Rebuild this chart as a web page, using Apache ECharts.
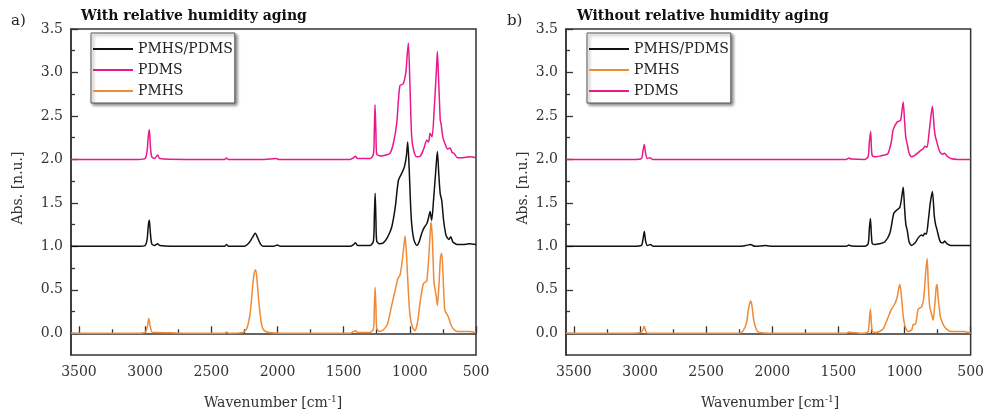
<!DOCTYPE html>
<html><head><meta charset="utf-8">
<script src="https://cdn.jsdelivr.net/npm/echarts@6/dist/echarts.min.js"></script>
<style>html,body{margin:0;padding:0;background:#fff}#c{width:987px;height:416px}</style>
</head><body><div id="c"></div>
<script>
// ---- data: [wavenumber cm-1, absorbance n.u.] ----
const xTicks = [500, 1000, 1500, 2000, 2500, 3000, 3500];
const xMinorTicks = [750, 1250, 1750, 2250, 2750, 3250];
const yTicks = [0, 0.5, 1.0, 1.5, 2.0, 2.5, 3.0, 3.5];
const yMinorTicks = [0.25, 0.75, 1.25, 1.75, 2.25, 2.75, 3.25];
const panelTitles = ['With relative humidity aging', 'Without relative humidity aging'];
const panelLetters = ['a)', 'b)'];
const legendA = ['PMHS/PDMS', 'PDMS', 'PMHS'];
const legendB = ['PMHS/PDMS', 'PMHS', 'PDMS'];

const aBlend = [[3560,1.0],[3300,1.0],[3050,1.0],[3000,1.01],[2985,1.08],[2975,1.25],[2968,1.3],[2960,1.15],[2950,1.03],[2930,1.01],[2905,1.03],[2890,1.01],[2700,1.0],[2400,1.0],[2385,1.02],[2370,1.0],[2250,1.0],[2215,1.04],[2190,1.1],[2168,1.15],[2150,1.1],[2130,1.03],[2110,1.0],[2030,1.0],[2000,1.015],[1980,1.0],[1600,1.0],[1450,1.0],[1425,1.02],[1410,1.04],[1395,1.01],[1300,1.01],[1275,1.06],[1268,1.35],[1262,1.61],[1256,1.3],[1250,1.06],[1230,1.03],[1200,1.04],[1170,1.1],[1137,1.22],[1110,1.45],[1086,1.76],[1061,1.84],[1040,1.92],[1025,2.05],[1016,2.2],[1005,1.9],[995,1.5],[986,1.26],[970,1.08],[948,1.01],[930,1.05],[910,1.15],[890,1.22],[872,1.26],[860,1.32],[847,1.4],[835,1.3],[820,1.55],[805,1.85],[792,2.09],[780,1.8],[770,1.6],[759,1.53],[745,1.3],[730,1.15],[721,1.11],[705,1.08],[691,1.11],[675,1.05],[655,1.03],[640,1.02],[600,1.02],[550,1.03],[500,1.02]];
const aPDMS = [[3560,2.0],[3300,2.0],[3050,2.0],[3000,2.01],[2985,2.1],[2975,2.28],[2968,2.34],[2960,2.15],[2950,2.03],[2930,2.01],[2905,2.05],[2890,2.01],[2700,2.0],[2400,2.0],[2385,2.015],[2370,2.0],[2100,2.0],[2010,2.01],[1990,2.0],[1600,2.0],[1450,2.0],[1425,2.02],[1410,2.035],[1395,2.01],[1300,2.01],[1275,2.06],[1268,2.35],[1263,2.63],[1256,2.3],[1250,2.06],[1220,2.04],[1180,2.05],[1150,2.07],[1125,2.18],[1100,2.4],[1085,2.7],[1074,2.85],[1050,2.87],[1030,3.0],[1020,3.2],[1011,3.34],[1000,2.9],[986,2.26],[970,2.1],[948,2.03],[920,2.04],[895,2.12],[872,2.22],[858,2.2],[847,2.3],[832,2.26],[815,2.6],[800,3.0],[792,3.24],[782,2.9],[770,2.45],[764,2.41],[750,2.25],[734,2.18],[715,2.12],[696,2.13],[680,2.08],[666,2.07],[640,2.02],[600,2.02],[550,2.03],[500,2.02]];
const aPMHS = [[3560,0.0],[3400,0.0],[3200,0.0],[3050,0.0],[3000,0.01],[2985,0.06],[2972,0.17],[2962,0.08],[2945,0.01],[2920,0.01],[2700,0.0],[2400,0.0],[2383,0.015],[2370,0.0],[2260,0.01],[2230,0.06],[2205,0.25],[2190,0.5],[2175,0.7],[2165,0.73],[2155,0.62],[2140,0.35],[2120,0.1],[2100,0.03],[2060,0.01],[1900,0.0],[1600,0.0],[1450,0.0],[1425,0.02],[1410,0.03],[1395,0.01],[1300,0.01],[1275,0.05],[1268,0.3],[1262,0.53],[1256,0.3],[1250,0.06],[1230,0.02],[1200,0.04],[1170,0.1],[1140,0.3],[1110,0.5],[1090,0.63],[1074,0.67],[1060,0.8],[1045,1.0],[1036,1.12],[1025,0.9],[1010,0.45],[998,0.2],[980,0.07],[961,0.03],[945,0.1],[936,0.19],[920,0.38],[898,0.57],[880,0.59],[872,0.6],[860,0.8],[848,1.1],[840,1.28],[830,1.1],[818,0.6],[810,0.51],[800,0.42],[792,0.32],[780,0.55],[768,0.88],[759,0.92],[750,0.7],[740,0.35],[734,0.26],[709,0.19],[690,0.1],[671,0.05],[640,0.02],[600,0.02],[550,0.02],[500,0.01]];

const bBlend = [[3560,1.0],[3300,1.0],[3050,1.0],[2990,1.01],[2978,1.08],[2968,1.17],[2958,1.06],[2945,1.01],[2920,1.02],[2900,1.0],[2700,1.0],[2250,1.0],[2200,1.01],[2165,1.02],[2130,1.0],[2050,1.01],[2000,1.0],[1600,1.0],[1440,1.0],[1420,1.015],[1405,1.005],[1300,1.0],[1275,1.03],[1266,1.2],[1258,1.32],[1250,1.12],[1243,1.03],[1220,1.02],[1190,1.03],[1150,1.05],[1111,1.15],[1081,1.38],[1056,1.42],[1035,1.45],[1020,1.58],[1010,1.68],[1000,1.45],[990,1.25],[980,1.19],[965,1.05],[947,1.01],[920,1.04],[895,1.1],[872,1.13],[860,1.12],[847,1.15],[835,1.14],[820,1.3],[805,1.5],[789,1.63],[775,1.35],[765,1.25],[754,1.19],[740,1.1],[728,1.05],[710,1.04],[696,1.06],[680,1.03],[650,1.01],[600,1.01],[500,1.01]];
const bPMHS = [[3560,0.0],[3300,0.0],[3050,0.0],[2990,0.01],[2978,0.04],[2968,0.08],[2958,0.03],[2945,0.0],[2600,0.0],[2250,0.0],[2220,0.03],[2195,0.12],[2180,0.28],[2165,0.37],[2155,0.33],[2140,0.15],[2120,0.04],[2100,0.01],[1900,0.0],[1600,0.0],[1440,0.0],[1420,0.015],[1405,0.01],[1300,0.0],[1275,0.02],[1266,0.15],[1258,0.28],[1250,0.1],[1243,0.02],[1220,0.01],[1190,0.02],[1161,0.05],[1130,0.16],[1098,0.28],[1073,0.34],[1055,0.42],[1042,0.53],[1035,0.56],[1025,0.45],[1010,0.2],[998,0.09],[985,0.04],[973,0.02],[945,0.04],[935,0.1],[922,0.1],[910,0.15],[897,0.28],[872,0.30],[855,0.4],[840,0.7],[829,0.86],[820,0.55],[809,0.30],[795,0.22],[784,0.15],[770,0.35],[760,0.53],[754,0.56],[745,0.4],[730,0.2],[721,0.15],[700,0.08],[683,0.05],[650,0.02],[600,0.02],[550,0.02],[500,0.0]];
const bPDMS = [[3560,2.0],[3300,2.0],[3050,2.0],[2990,2.01],[2978,2.1],[2968,2.17],[2958,2.07],[2945,2.01],[2925,2.02],[2905,2.0],[2700,2.0],[2200,2.0],[2000,2.0],[1800,2.0],[1600,2.0],[1440,2.0],[1420,2.015],[1405,2.005],[1300,2.0],[1275,2.03],[1266,2.2],[1256,2.32],[1250,2.12],[1243,2.04],[1220,2.03],[1180,2.04],[1150,2.05],[1124,2.07],[1100,2.2],[1086,2.34],[1056,2.43],[1030,2.45],[1020,2.55],[1010,2.66],[1000,2.45],[990,2.25],[980,2.18],[965,2.07],[947,2.03],[920,2.05],[895,2.08],[872,2.11],[860,2.12],[847,2.15],[830,2.14],[815,2.3],[800,2.5],[789,2.61],[775,2.35],[765,2.25],[759,2.22],[745,2.14],[734,2.09],[715,2.06],[696,2.07],[680,2.04],[650,2.01],[600,2.0],[500,2.0]];

// ---- style ----
const FONT = 'DejaVu Serif';
const C_BLACK = '#111111', C_PINK = '#E8198D', C_ORANGE = '#EF8A37';
const AX = '#333333';
const grids = [
  {left: 71, top: 29, width: 405, height: 326},
  {left: 566, top: 29, width: 405, height: 326}
];

function xAxes(g) {
  const base = {gridIndex: g, type: 'value', min: 500, max: 3560, inverse: true,
    splitLine: {show: false}, position: 'bottom'};
  return [
    Object.assign({}, base, {
      axisLine: {show: true, lineStyle: {color: AX, width: 1.5}},
      axisTick: {show: true, inside: true, length: 7, customValues: xTicks, lineStyle: {color: AX, width: 1.3}},
      axisLabel: {show: true, customValues: xTicks, margin: 10, fontFamily: FONT, fontSize: 14, color: '#333',
        formatter: v => String(Math.round(v))}
    }),
    Object.assign({}, base, {
      axisLine: {show: false},
      axisTick: {show: true, inside: true, length: 4, customValues: xMinorTicks, lineStyle: {color: AX, width: 1.3}},
      axisLabel: {show: false}
    })
  ];
}
function yAxes(g) {
  const base = {gridIndex: g, type: 'value', min: -0.25, max: 3.5, splitLine: {show: false}, position: 'left'};
  return [
    Object.assign({}, base, {
      axisLine: {show: true, lineStyle: {color: AX, width: 1.5}},
      axisTick: {show: true, inside: true, length: 7, customValues: yTicks, lineStyle: {color: AX, width: 1.3}},
      axisLabel: {show: true, customValues: yTicks, margin: 8, fontFamily: FONT, fontSize: 14, color: '#333',
        formatter: v => v.toFixed(1)}
    }),
    Object.assign({}, base, {
      axisLine: {show: false},
      axisTick: {show: true, inside: true, length: 4, customValues: yMinorTicks, lineStyle: {color: AX, width: 1.3}},
      axisLabel: {show: false}
    })
  ];
}

function line(name, data, color, g) {
  return {name, type: 'line', data, xAxisIndex: g * 2, yAxisIndex: g * 2,
    showSymbol: false, symbol: 'none', smooth: 0.25, animation: false,
    lineStyle: {color, width: 1.5}, itemStyle: {color}, z: 3};
}

function legend(g, data, left) {
  return {data, left, top: 33, orient: 'vertical', icon: 'rect', itemWidth: 40, itemHeight: 2, itemGap: 5,
    padding: [8, 2, 4, 2], backgroundColor: '#fff', borderColor: '#555', borderWidth: 1,
    shadowColor: 'rgba(0,0,0,0.45)', shadowBlur: 3, shadowOffsetX: 2, shadowOffsetY: 2,
    textStyle: {fontFamily: FONT, fontSize: 14, color: '#222', lineHeight: 16}, selectedMode: false};
}

const chart = echarts.init(document.getElementById('c'), null, {renderer: 'canvas'});
const supRich = {sup: {fontFamily: FONT, fontSize: 9, color: '#333', verticalAlign: 'top', padding: [0, 0, 7, 0]}};
chart.setOption({
  animation: false,
  backgroundColor: '#fff',
  grid: grids.map(g => Object.assign({show: true, borderColor: AX, borderWidth: 1.5, backgroundColor: 'transparent'}, g)),
  xAxis: [...xAxes(0), ...xAxes(1)],
  yAxis: [...yAxes(0), ...yAxes(1)],
  legend: [legend(0, legendA, 91), legend(1, legendB, 587)],
  series: [
    line('PMHS/PDMS', aBlend, C_BLACK, 0),
    line('PDMS', aPDMS, C_PINK, 0),
    line('PMHS', aPMHS, C_ORANGE, 0),
    line('PMHS/PDMS', bBlend, C_BLACK, 1),
    line('PDMS', bPDMS, C_PINK, 1),
    line('PMHS', bPMHS, C_ORANGE, 1)
  ],
  graphic: [
    {type: 'text', left: 81, top: 9, style: {text: panelTitles[0], font: 'bold 14px "DejaVu Serif"', fill: '#111'}},
    {type: 'text', left: 577, top: 9, style: {text: panelTitles[1], font: 'bold 14px "DejaVu Serif"', fill: '#111'}},
    {type: 'text', left: 11, top: 14, style: {text: panelLetters[0], font: '15px "DejaVu Serif"', fill: '#222'}},
    {type: 'text', left: 507, top: 14, style: {text: panelLetters[1], font: '15px "DejaVu Serif"', fill: '#222'}},
    {type: 'text', x: 18, y: 188, rotation: Math.PI / 2, style: {text: 'Abs. [n.u.]', font: '14px "DejaVu Serif"', fill: '#333', align: 'center', verticalAlign: 'middle'}},
    {type: 'text', x: 523, y: 188, rotation: Math.PI / 2, style: {text: 'Abs. [n.u.]', font: '14px "DejaVu Serif"', fill: '#333', align: 'center', verticalAlign: 'middle'}},
    {type: 'text', x: 273, y: 403, style: {text: 'Wavenumber [cm{sup|-1}]', font: '14px "DejaVu Serif"', fill: '#333', align: 'center', verticalAlign: 'middle', rich: supRich}},
    {type: 'text', x: 770, y: 403, style: {text: 'Wavenumber [cm{sup|-1}]', font: '14px "DejaVu Serif"', fill: '#333', align: 'center', verticalAlign: 'middle', rich: supRich}}
  ]
});
</script>
</body></html>
